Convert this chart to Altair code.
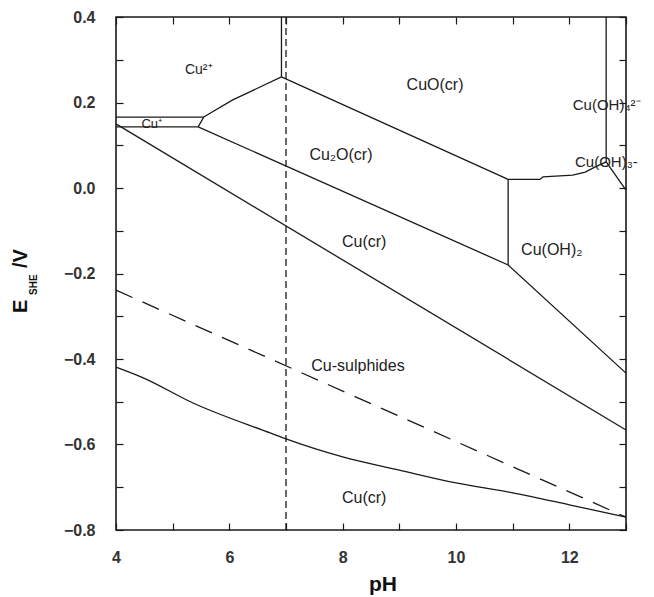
import altair as alt
import pandas as pd

# ---- axis ticks ----
PH_TICKS = [4, 5, 6, 7, 8, 9, 10, 11, 12, 13]
E_TICKS = [0.4, 0.3, 0.2, 0.1, 0.0, -0.1, -0.2, -0.3, -0.4, -0.5, -0.6, -0.7, -0.8]

# ---- solid boundary lines (pH, E/V) ----
CUPLUS_TOP_PH = [4.0, 5.55]
CUPLUS_TOP_E = [0.166, 0.166]
CUPLUS_BOT_PH = [4.0, 5.45]
CUPLUS_BOT_E = [0.143, 0.143]
CU2_CU2O_PH = [5.45, 5.55, 5.66, 6.06, 6.92]
CU2_CU2O_E = [0.143, 0.166, 0.175, 0.206, 0.260]
CU2_CUO_PH = [6.92, 6.92]
CU2_CUO_E = [0.400, 0.260]
CUO_CU2O_PH = [6.92, 10.92]
CUO_CU2O_E = [0.260, 0.020]
CU2O_CU_PH = [5.45, 10.92, 13.0]
CU2O_CU_E = [0.143, -0.180, -0.433]
CUOH2_V_PH = [10.92, 10.92]
CUOH2_V_E = [0.020, -0.180]
CUO_CUOH_PH = [10.92, 11.48, 11.535, 12.06, 12.28, 12.45, 12.65]
CUO_CUOH_E = [0.020, 0.020, 0.026, 0.030, 0.037, 0.049, 0.061]
CUOH4_V_PH = [12.65, 12.65]
CUOH4_V_E = [0.400, 0.061]
CUOH3_D_PH = [12.65, 13.0]
CUOH3_D_E = [0.061, -0.005]
CU_SULPH_PH = [4.0, 13.0]
CU_SULPH_E = [0.150, -0.566]
# lower Cu-sulphides / Cu(cr) boundary (smooth curve)
LOWER_PH = [4.0, 4.48, 5.36, 6.72, 7.0, 8.0, 9.0, 10.0, 11.0, 12.0, 13.0]
LOWER_E = [-0.419, -0.444, -0.503, -0.573, -0.587, -0.629, -0.660, -0.690, -0.713, -0.741, -0.770]

# ---- dashed line ----
DASH_PH = [4.0, 13.0]
DASH_E = [-0.239, -0.770]

# ---- neutral pH marker ----
NEUTRAL_PH = [7.0]

# ---- region labels ----
LAB_C_TEXT = ["CuO(cr)", "Cu\u2082O(cr)", "Cu(cr)", "Cu(OH)\u2082", "Cu-sulphides", "Cu(cr)"]
LAB_C_PH = [9.63, 7.97, 8.38, 11.69, 8.27, 8.38]
LAB_C_E = [0.241, 0.077, -0.126, -0.145, -0.416, -0.725]
LAB_S_TEXT = ["Cu\u00b2\u207a", "Cu\u207a"]
LAB_S_PH = [5.46, 4.63]
LAB_S_E = [0.276, 0.150]
LAB_L_TEXT = ["Cu(OH)\u2084\u00b2\u207b", "Cu(OH)\u2083-"]
LAB_L_PH = [12.06, 12.10]
LAB_L_E = [0.194, 0.061]

solid = [
    (CUPLUS_TOP_PH, CUPLUS_TOP_E), (CUPLUS_BOT_PH, CUPLUS_BOT_E),
    (CU2_CU2O_PH, CU2_CU2O_E), (CU2_CUO_PH, CU2_CUO_E),
    (CUO_CU2O_PH, CUO_CU2O_E), (CU2O_CU_PH, CU2O_CU_E),
    (CUOH2_V_PH, CUOH2_V_E), (CUO_CUOH_PH, CUO_CUOH_E),
    (CUOH4_V_PH, CUOH4_V_E), (CUOH3_D_PH, CUOH3_D_E),
    (CU_SULPH_PH, CU_SULPH_E),
]
rows = []
for i, (phs, es) in enumerate(solid):
    for j, (p, e) in enumerate(zip(phs, es)):
        rows.append({"series": i, "order": j, "ph": p, "E": e})
solid_df = pd.DataFrame(rows)
lower_df = pd.DataFrame({"order": range(len(LOWER_PH)), "ph": LOWER_PH, "E": LOWER_E})
dash_df = pd.DataFrame({"order": range(len(DASH_PH)), "ph": DASH_PH, "E": DASH_E})
neutral_df = pd.DataFrame({"ph": NEUTRAL_PH})
labc_df = pd.DataFrame({"t": LAB_C_TEXT, "ph": LAB_C_PH, "E": LAB_C_E})
labs_df = pd.DataFrame({"t": LAB_S_TEXT, "ph": LAB_S_PH, "E": LAB_S_E, "fs": [14, 13]})
labl_df = pd.DataFrame({"t": LAB_L_TEXT, "ph": LAB_L_PH, "E": LAB_L_E})
one = pd.DataFrame({"a": [0]})

FONT = "Liberation Sans"
INK = "#1a1a1a"
xs = alt.Scale(domain=[4, 13], nice=False, zero=False)
ys = alt.Scale(domain=[-0.8, 0.4], nice=False, zero=False)

common_ax = dict(offset=-7, tickSize=7, domain=False, grid=False, title=None,
                 tickColor=INK, tickWidth=1.2)
ax_bottom = alt.Axis(orient="bottom", values=PH_TICKS, format="d",
                     labelExpr="datum.value % 2 == 0 ? datum.label : ''",
                     labelPadding=19, labelFont=FONT, labelFontSize=16,
                     labelFontWeight="bold", labelColor="#333", labelFlush=False,
                     labelOverlap=False, **common_ax)
ax_left = alt.Axis(orient="left", values=E_TICKS, format=".1f",
                   labelExpr="round(datum.value*10) % 2 == 0 ? datum.label : ''",
                   labelPadding=21, labelFont=FONT, labelFontSize=16,
                   labelFontWeight="bold", labelColor="#333", labelFlush=False,
                   labelOverlap=False, **common_ax)
ax_top = alt.Axis(orient="top", values=PH_TICKS, labels=False, **common_ax)
ax_right = alt.Axis(orient="right", values=E_TICKS, labels=False, **common_ax)

solid_layer = alt.Chart(solid_df).mark_line(color=INK, strokeWidth=1.3).encode(
    x=alt.X("ph:Q", scale=xs, axis=ax_bottom),
    y=alt.Y("E:Q", scale=ys, axis=ax_left),
    detail="series:N",
    order="order:Q",
)
lower_layer = alt.Chart(lower_df).mark_line(color=INK, strokeWidth=1.3, interpolate="monotone").encode(
    x=alt.X("ph:Q", scale=xs, axis=None),
    y=alt.Y("E:Q", scale=ys, axis=None),
    order="order:Q",
)
dash_layer = alt.Chart(dash_df).mark_line(color=INK, strokeWidth=1.3, strokeDash=[18, 11]).encode(
    x=alt.X("ph:Q", scale=xs, axis=ax_top),
    y=alt.Y("E:Q", scale=ys, axis=ax_right),
    order="order:Q",
)
neutral_layer = alt.Chart(neutral_df).mark_rule(color=INK, strokeWidth=1.3, strokeDash=[7, 4]).encode(
    x=alt.X("ph:Q", scale=xs, axis=None),
)

def label_layer(df, size, align):
    enc = dict(
        x=alt.X("ph:Q", scale=xs, axis=None),
        y=alt.Y("E:Q", scale=ys, axis=None),
        text="t:N",
    )
    if "fs" in df.columns:
        enc["size"] = alt.Size("fs:Q", scale=None, legend=None)
    return alt.Chart(df).mark_text(font=FONT, fontSize=size, color="#222", align=align,
                                   baseline="middle").encode(**enc)

labc = label_layer(labc_df, 16, "center")
labs = label_layer(labs_df, 14, "center")
labl = label_layer(labl_df, 15, "left")

t_E = alt.Chart(one).mark_text(text="E", font=FONT, fontSize=20, fontWeight="bold", angle=270,
                               align="left", baseline="alphabetic", color="#111").encode(
    x=alt.value(-89), y=alt.value(296))
t_SHE = alt.Chart(one).mark_text(text="SHE", font=FONT, fontSize=10, fontWeight="bold", angle=270,
                                 align="left", baseline="alphabetic", color="#111").encode(
    x=alt.value(-79), y=alt.value(278))
t_V = alt.Chart(one).mark_text(text="/V", font=FONT, fontSize=20, fontWeight="bold", angle=270,
                               align="left", baseline="alphabetic", color="#111").encode(
    x=alt.value(-89), y=alt.value(251))
t_pH = alt.Chart(one).mark_text(text="pH", font=FONT, fontSize=21, fontWeight="bold",
                                align="center", baseline="alphabetic", color="#111").encode(
    x=alt.value(267), y=alt.value(574))

chart = alt.layer(
    solid_layer, lower_layer, dash_layer, neutral_layer, labc, labs, labl,
    t_E, t_SHE, t_V, t_pH
).resolve_axis(x="independent", y="independent").properties(
    width=510, height=513, autosize="none",
    padding={"left": 116, "top": 17, "right": 28, "bottom": 67},
    background="white",
).configure_view(stroke=INK, strokeWidth=1.6)

chart.save("out.html", embed_options={"renderer": "svg", "actions": False})
